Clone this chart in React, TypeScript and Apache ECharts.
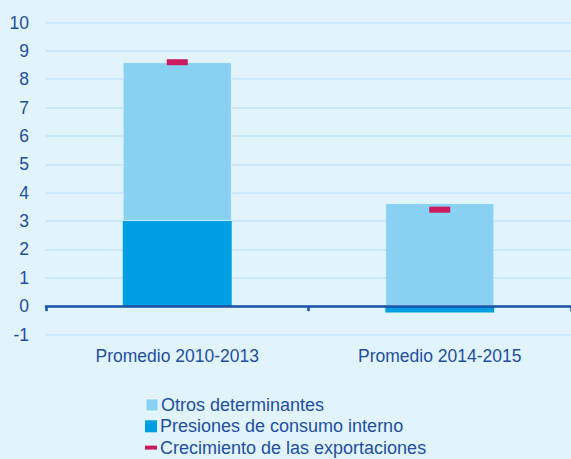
import React, { useEffect, useRef } from "react";
import * as echarts from "echarts";

const categories = ["Promedio 2010-2013", "Promedio 2014-2015"];
const otrosDeterminantes = [5.6, 3.63];
const presionesConsumo = [3.0, -0.22];
const crecimientoExportaciones = [8.6, 3.4];
const yTicks = { min: -1, max: 10, interval: 1 };

const legendItems = [
  { name: "Otros determinantes", icon: "rect" },
  { name: "Presiones de consumo interno", icon: "rect" },
  { name: "Crecimiento de las exportaciones", icon: "path://M0,0h12v4h-12z" },
];

const TEXT = "#1f4f9f";
const FONT = "Liberation Sans, Arial, sans-serif";

export default function App() {
  const ref = useRef<HTMLDivElement>(null);
  useEffect(() => {
    if (!ref.current) return;
    const chart = echarts.init(ref.current, undefined, { renderer: "svg" });
    chart.setOption({
      animation: false,
      backgroundColor: "#e1f3fb",
      textStyle: { fontFamily: FONT },
      grid: { left: 46, right: 0, top: 22.5, bottom: 124.5 },
      legend: legendItems.map((item, i) => ({
        orient: "vertical",
        left: 145,
        top: 396 + i * 21.3,
        padding: 0,
        itemWidth: 12,
        itemHeight: 12,
        itemGap: 3,
        textStyle: { color: TEXT, fontSize: 18, fontFamily: FONT, padding: [0, 0, 0, -2] },
        data: [item],
      })),
      xAxis: [
        {
          type: "category",
          data: categories,
          position: "bottom",
          axisLine: { show: false, onZero: false },
          axisTick: { show: false },
          axisLabel: { color: TEXT, fontSize: 17.5, fontFamily: FONT, margin: 12 },
        },
        {
          type: "category",
          data: categories,
          position: "bottom",
          z: 5,
          axisLine: { show: true, onZero: true, lineStyle: { color: "#1a52a6", width: 2.5 } },
          axisTick: { show: true, length: 5, lineStyle: { color: "#1a52a6", width: 2.5 } },
          axisLabel: { show: false },
        },
      ],
      yAxis: {
        type: "value",
        min: yTicks.min,
        max: yTicks.max,
        interval: yTicks.interval,
        axisLine: { show: false },
        axisTick: { show: false },
        axisLabel: { color: TEXT, fontSize: 17.5, fontFamily: FONT, margin: 17 },
        splitLine: { lineStyle: { color: "#c3e5f7", width: 1.5 } },
      },
      series: [
        {
          name: "Presiones de consumo interno",
          type: "bar",
          stack: "total",
          barWidth: "41.5%",
          data: presionesConsumo,
          itemStyle: { color: "#009fe3" },
        },
        {
          name: "Otros determinantes",
          type: "bar",
          stack: "total",
          barWidth: "41.5%",
          data: otrosDeterminantes,
          itemStyle: { color: "#89d1f2", borderColor: "rgba(255,255,255,0.35)", borderWidth: 1 },
        },
        {
          name: "Crecimiento de las exportaciones",
          type: "scatter",
          symbol: "rect",
          symbolSize: [21, 6],
          z: 4,
          data: crecimientoExportaciones,
          itemStyle: { color: "#cc1a5e", opacity: 1 },
        },
      ],
    });
    return () => chart.dispose();
  }, []);
  return (
    <div
      ref={ref}
      style={{ position: "absolute", left: 0, top: 0, width: 571, height: 459 }}
    />
  );
}
